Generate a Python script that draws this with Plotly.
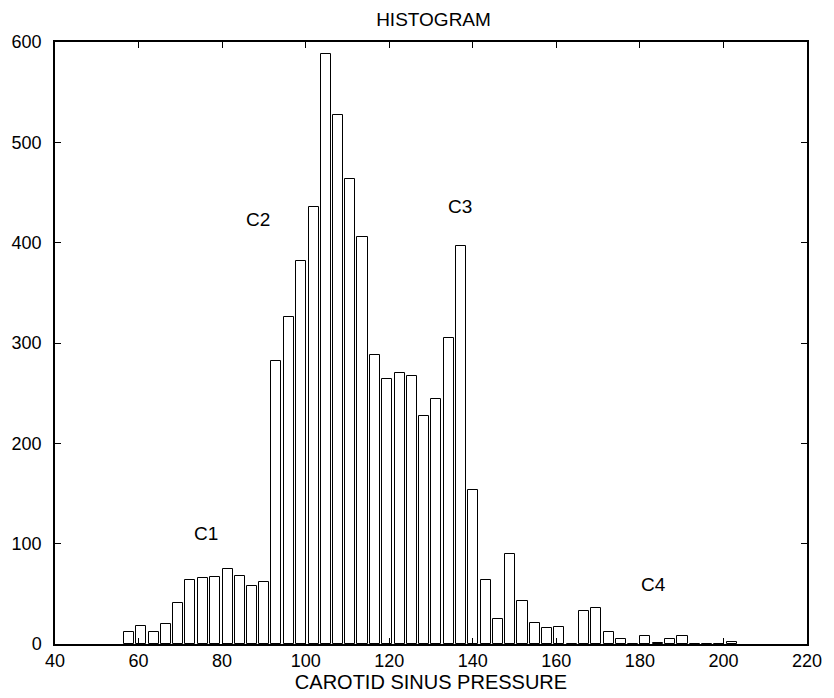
import plotly.graph_objects as go

# bin centres (CAROTID SINUS PRESSURE) and counts
bin_centers = [57.7, 60.6, 63.6, 66.5, 69.5, 72.4, 75.4, 78.3, 81.3, 84.2,
               87.1, 90.1, 93.0, 96.0, 98.9, 101.9, 104.8, 107.7, 110.7, 113.6,
               116.6, 119.5, 122.5, 125.4, 128.4, 131.3, 134.2, 137.2, 140.1, 143.1,
               146.0, 149.0, 151.9, 154.9, 157.8, 160.7, 163.7, 166.6, 169.6, 172.5,
               175.5, 178.4, 181.3, 184.3, 187.2, 190.2, 193.1, 196.1, 199.0, 202.0]
counts = [12, 18, 12, 20, 41, 64, 66, 67, 75, 68,
          58, 62, 282, 326, 382, 436, 588, 527, 463, 406,
          288, 264, 270, 267, 227, 244, 305, 397, 153, 64,
          25, 90, 43, 21, 16, 17, 0, 33, 36, 12,
          5, 0, 8, 1, 5, 8, 0, 0, 0, 2]

labels = ["C1", "C2", "C3", "C4"]
label_x = [76.2, 88.5, 137.0, 183.3]
label_y = [110, 423, 436, 59]

x_ticks = [40, 60, 80, 100, 120, 140, 160, 180, 200, 220]
y_ticks = [0, 100, 200, 300, 400, 500, 600]

FONT = "Liberation Sans, Arial, sans-serif"

fig = go.Figure()
fig.add_trace(go.Bar(
    x=bin_centers, y=counts, width=2.4,
    marker=dict(color="white", line=dict(color="black", width=1)),
    showlegend=False,
))

for t, xx, yy in zip(labels, label_x, label_y):
    fig.add_annotation(x=xx, y=yy, xref="x", yref="y", text=t, showarrow=False,
                       font=dict(family=FONT, size=19, color="black"))

fig.update_layout(
    width=834, height=698,
    margin=dict(l=51, r=18, t=42, b=53),
    paper_bgcolor="white", plot_bgcolor="white",
    font=dict(family=FONT, size=18, color="black"),
    title=dict(text="HISTOGRAM", x=433.5 / 834, xanchor="center", y=1 - 19 / 698, yanchor="middle",
               font=dict(family=FONT, size=19, color="black")),
    bargap=0,
)
fig.update_xaxes(
    range=[40, 220], tickvals=x_ticks, ticktext=[str(v) for v in x_ticks],
    showgrid=False, zeroline=False, showline=True, linecolor="black", linewidth=1.5,
    mirror="ticks", ticks="inside", ticklen=6, tickcolor="black",
    tickfont=dict(family=FONT, size=18),
    title=dict(text="CAROTID SINUS PRESSURE", standoff=1, font=dict(family=FONT, size=20)),
)
fig.update_yaxes(
    range=[0, 600], tickvals=y_ticks, ticktext=[str(v) for v in y_ticks],
    showgrid=False, zeroline=False, showline=True, linecolor="black", linewidth=1.5,
    mirror="ticks", ticks="inside", ticklen=6, tickcolor="black",
    tickfont=dict(family=FONT, size=18), ticklabelstandoff=8,
)

fig.write_html("out.html")
